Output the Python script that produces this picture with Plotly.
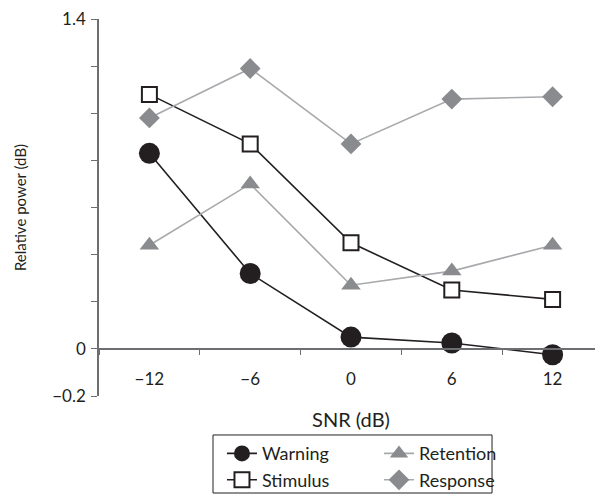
import plotly.graph_objects as go

snr = ["\u221212", "\u22126", "0", "6", "12"]
warning = [0.83, 0.32, 0.05, 0.025, -0.025]
stimulus = [1.08, 0.87, 0.45, 0.25, 0.21]
retention = [0.44, 0.70, 0.27, 0.33, 0.44]
response = [0.98, 1.19, 0.87, 1.06, 1.07]
ytick_vals = [-0.2, 0, 0.2, 0.4, 0.6, 0.8, 1.0, 1.2, 1.4]
ytick_text = ["\u22120.2", "0", "", "", "", "", "", "", "1.4"]

DARK = "#231f20"
GREYL = "#a7a9ac"
GREYM = "#8a8b8e"
AX = "#6d6e71"
FONT = "Lato, Open Sans, sans-serif"

fig = go.Figure()
fig.add_trace(go.Scatter(x=snr, y=warning, name="Warning", mode="lines+markers",
                         line=dict(color=DARK, width=1.6), legend="legend",
                         marker=dict(symbol="circle", size=21, color=DARK, line=dict(width=0)),
                         cliponaxis=False))
fig.add_trace(go.Scatter(x=snr, y=stimulus, name="Stimulus", mode="lines+markers",
                         line=dict(color=DARK, width=1.6), legend="legend",
                         marker=dict(symbol="square", size=15, color="white", line=dict(width=2, color=DARK)),
                         cliponaxis=False))
fig.add_trace(go.Scatter(x=snr, y=retention, name="Retention", mode="lines+markers",
                         line=dict(color=GREYL, width=1.6), legend="legend2",
                         marker=dict(symbol="triangle-up", size=17, color=GREYM, line=dict(width=0)),
                         cliponaxis=False))
fig.add_trace(go.Scatter(x=snr, y=response, name="Response", mode="lines+markers",
                         line=dict(color=GREYL, width=1.6), legend="legend2",
                         marker=dict(symbol="diamond", size=16, color=GREYM, line=dict(width=0)),
                         cliponaxis=False))

leg_common = dict(orientation="v", yanchor="top", xanchor="left", y=-0.104,
                  borderwidth=0, bgcolor="rgba(0,0,0,0)",
                  font=dict(size=18, color=DARK), itemsizing="trace", tracegroupgap=0)

fig.update_layout(
    width=595, height=492,
    margin=dict(l=91, r=0, t=11, b=104, autoexpand=False),
    plot_bgcolor="white", paper_bgcolor="white",
    font=dict(family=FONT, size=17, color=DARK),
    showlegend=True,
    legend=dict(x=0.244, **leg_common),
    legend2=dict(x=0.5556, **leg_common),
    shapes=[dict(type="rect", xref="paper", yref="paper",
                 x0=0.2262, x1=0.7798, y0=-0.2573, y1=-0.1034,
                 line=dict(color=DARK, width=1), fillcolor="rgba(0,0,0,0)", layer="above")],
    xaxis=dict(type="category", range=[-0.5, 4.5], anchor="free", position=0.125,
               showline=True, linecolor=AX, linewidth=1.5, automargin=False,
               ticks="outside", tickson="boundaries", ticklen=5, tickcolor=AX, tickwidth=1.2,
               ticklabelstandoff=15, showgrid=False, zeroline=False, ticklabeloverflow="allow",
               tickfont=dict(size=17, color=DARK),
               title=dict(text="SNR (dB)", standoff=24, font=dict(size=20, color=DARK))),
    yaxis=dict(range=[-0.2, 1.4], showline=True, linecolor=AX, linewidth=1.5, automargin=False,
               tickvals=ytick_vals, ticktext=ytick_text, ticklabeloverflow="allow",
               ticks="outside", ticklen=6, tickcolor=AX, tickwidth=1.2,
               ticklabelstandoff=2, showgrid=False, zeroline=False,
               tickfont=dict(size=17, color=DARK),
               title=dict(text="Relative power (dB)", standoff=22, font=dict(size=15, color=DARK))),
)

fig.write_html("out.html")
